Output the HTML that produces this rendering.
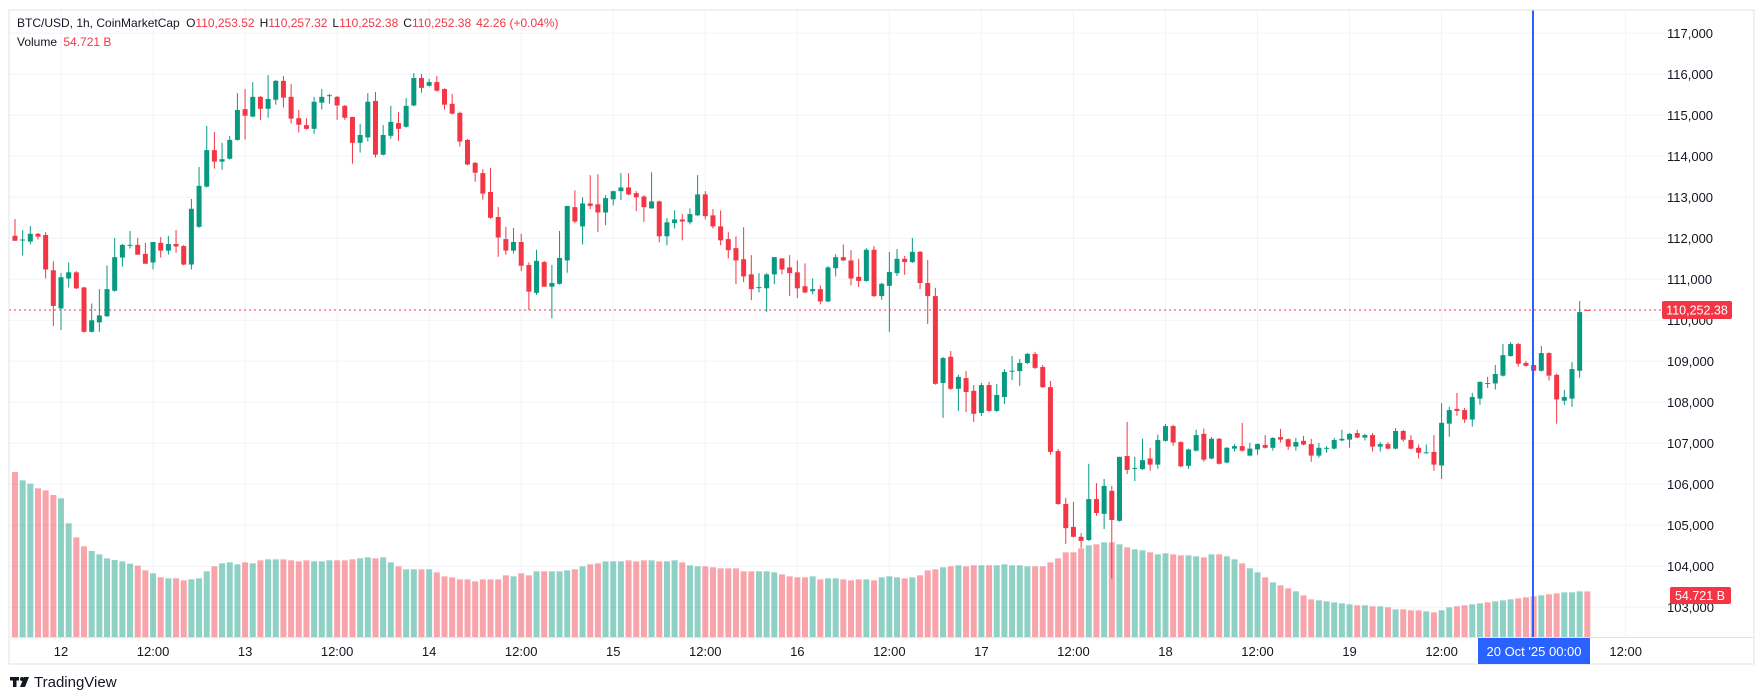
<!DOCTYPE html>
<html><head><meta charset="utf-8"><style>
html,body{margin:0;padding:0;background:#fff;width:1756px;height:700px;overflow:hidden}
svg{display:block;font-family:"Liberation Sans",sans-serif}
</style></head><body>
<svg id="chart" width="1756" height="700" viewBox="0 0 1756 700">
  <rect x="0" y="0" width="1756" height="700" fill="#ffffff"/>
  <g id="grid"></g>
  <g id="vol" clip-path="url(#plotclip)"></g>
  <line x1="9" y1="310" x2="1673" y2="310" stroke="#f23645" stroke-width="1" stroke-dasharray="2,3"/>
  <g id="candles" clip-path="url(#plotclip)"></g>
  <defs><clipPath id="plotclip"><rect x="9" y="10" width="1664" height="627"/></clipPath></defs>
  <line id="crosshair" x1="1533" y1="10" x2="1533" y2="637" stroke="#2962ff" stroke-width="2"/>
  <g id="axes"></g>
  <g font-size="12" fill="#131722">
    <text x="17" y="27">BTC/USD, 1h, CoinMarketCap <tspan dx="3">O</tspan><tspan fill="#f23645">110,253.52</tspan><tspan dx="5">H</tspan><tspan fill="#f23645">110,257.32</tspan><tspan dx="5">L</tspan><tspan fill="#f23645">110,252.38</tspan><tspan dx="5">C</tspan><tspan fill="#f23645">110,252.38</tspan><tspan dx="5" fill="#f23645">42.26 (+0.04%)</tspan></text>
    <text x="17" y="46">Volume <tspan dx="3" fill="#f23645">54.721 B</tspan></text>
  </g>
  <g>
    <rect x="10" y="677" width="9" height="3.5" fill="#131722"/>
    <rect x="13" y="677" width="3.5" height="10" fill="#131722"/>
    <circle cx="22" cy="679" r="2" fill="#131722"/>
    <polygon points="24,677 29,677 25,687 20,687" fill="#131722"/>
    <text x="34" y="687" font-size="15" fill="#131722">TradingView</text>
  </g>
</svg>
<script>
const opens=[112.06,111.96,111.92,112.11,112.08,111.22,110.29,111.02,111.17,110.80,
109.72,109.95,110.10,110.72,111.53,111.83,111.84,111.62,111.41,111.89,
111.70,111.86,111.81,111.36,112.28,113.26,114.15,113.87,113.94,114.40,
115.15,114.97,115.45,115.16,115.38,115.84,115.45,114.93,114.76,114.67,
115.31,115.47,115.45,115.23,114.96,114.33,114.46,115.35,114.04,114.50,
114.81,114.72,115.24,115.91,115.72,115.81,115.64,115.28,115.06,114.40,
113.84,113.59,113.13,112.52,111.98,111.70,111.91,111.35,110.67,111.42,
110.82,110.89,111.46,112.76,112.29,112.85,112.83,112.63,112.95,113.15,
113.24,113.10,113.02,112.73,112.90,112.05,112.37,112.46,112.39,112.56,
113.07,112.56,112.29,111.98,111.76,111.49,111.12,110.79,110.78,111.12,
111.51,111.29,111.17,110.83,110.71,110.76,110.46,111.27,111.54,111.46,
111.06,110.96,111.72,110.59,110.84,111.15,111.50,111.42,111.67,110.91,
110.59,108.47,109.11,108.33,108.59,108.28,107.74,108.42,107.79,108.13,
108.75,108.76,108.96,109.18,108.86,108.37,106.81,105.52,104.96,104.72,
104.64,105.64,105.28,105.84,105.11,106.69,106.39,106.37,106.63,106.48,
107.06,107.42,107.03,106.45,106.82,107.23,106.63,107.11,106.53,106.87,
106.93,106.70,106.85,106.96,106.89,107.15,107.10,106.92,107.06,106.98,
106.70,106.88,106.87,107.07,107.09,107.25,107.14,107.20,106.92,106.98,
106.87,107.30,107.08,106.89,106.77,106.79,106.46,107.48,107.84,107.81,
107.58,108.09,108.47,108.46,108.65,109.13,109.42,108.96,108.91,108.77,
109.20,108.67,108.04,108.09,108.77,110.2535];
const highs=[112.47,112.20,112.30,112.13,112.15,111.44,111.15,111.41,111.20,110.82,
110.41,110.76,111.34,112.01,111.86,112.18,112.01,111.89,111.91,112.03,
112.06,112.20,111.84,112.96,113.74,114.74,114.59,114.33,114.50,115.54,
115.64,115.81,115.47,115.98,115.86,115.96,115.76,115.13,114.93,115.45,
115.64,115.52,115.47,115.25,114.96,114.79,115.54,115.57,114.76,115.23,
115.08,115.42,116.03,116.01,115.89,115.96,115.66,115.52,115.09,114.42,
113.86,113.69,113.72,112.76,112.28,112.25,112.11,111.41,111.72,111.45,
111.35,112.18,112.79,113.17,113.00,113.54,113.56,113.05,113.16,113.59,
113.59,113.15,113.05,113.61,112.92,112.49,112.68,112.59,112.73,113.54,
113.15,112.71,112.68,112.15,112.05,112.27,111.59,111.15,111.15,111.54,
111.51,111.59,111.46,111.39,111.02,110.85,111.32,111.61,111.85,111.71,
111.50,111.76,111.81,110.91,111.67,111.74,111.57,112.01,111.69,111.47,
110.79,109.11,109.25,108.67,108.76,108.42,108.47,108.50,108.45,108.81,
109.13,109.06,109.20,109.23,108.91,108.52,106.86,105.67,105.57,104.81,
106.50,106.03,106.13,105.96,106.67,107.52,106.67,107.11,106.89,107.21,
107.47,107.45,107.05,106.87,107.33,107.36,107.15,107.13,106.91,106.98,
107.50,107.01,107.00,107.20,107.15,107.35,107.12,107.13,107.18,107.11,
107.01,106.93,107.13,107.33,107.25,107.33,107.23,107.25,107.03,107.03,
107.37,107.33,107.20,106.97,106.97,107.20,107.98,107.89,108.23,107.86,
108.23,108.50,108.62,108.91,109.42,109.47,109.45,109.01,108.93,109.37,
109.22,108.70,108.30,108.98,110.47,110.25732];
const lows=[111.94,111.58,111.85,111.97,111.02,109.86,109.76,110.80,110.76,109.70,
109.70,109.72,110.08,110.70,111.31,111.75,111.60,111.38,111.24,111.53,
111.60,111.65,111.34,111.24,112.26,113.24,113.70,113.67,113.92,114.38,
114.41,114.95,114.89,114.94,115.26,115.19,114.80,114.58,114.65,114.55,
115.14,115.28,114.89,114.89,113.82,114.09,114.36,113.97,114.02,114.43,
114.38,114.70,115.22,115.55,115.70,115.58,115.14,115.02,114.24,113.78,
113.38,112.94,112.48,111.55,111.60,111.63,111.20,110.25,110.62,110.82,
110.05,110.87,111.16,112.37,111.85,112.71,112.15,112.32,112.80,112.93,
113.05,112.66,112.40,112.72,111.90,111.83,112.24,111.95,112.34,112.54,
112.46,112.24,111.83,111.51,110.88,110.93,110.49,110.68,110.20,110.88,
111.12,110.59,110.54,110.66,110.63,110.39,110.44,111.07,111.44,110.85,
110.81,110.94,110.57,110.50,109.72,111.08,111.11,111.40,110.76,109.91,
108.43,107.62,108.30,107.79,107.76,107.52,107.67,107.77,107.76,107.96,
108.54,108.40,108.93,108.81,108.35,106.72,105.50,104.54,104.70,104.45,
104.62,105.23,104.91,103.70,105.09,106.25,106.08,106.35,106.33,106.38,
107.04,106.94,106.41,106.38,106.80,106.55,106.61,106.48,106.51,106.80,
106.80,106.68,106.72,106.87,106.82,107.02,106.84,106.82,106.95,106.55,
106.65,106.77,106.85,107.05,106.89,107.12,107.07,106.80,106.80,106.85,
106.85,107.04,106.85,106.63,106.75,106.33,106.13,107.16,107.67,107.50,
107.41,107.94,108.35,108.31,108.63,109.11,108.87,108.87,108.64,108.75,
108.53,107.48,107.94,107.89,108.60,110.25238];
const closes=[111.94,111.97,112.11,112.04,111.24,110.35,111.05,111.17,110.78,109.72,
110.00,110.12,110.76,111.54,111.84,111.84,111.60,111.38,111.91,111.70,
111.86,111.80,111.36,112.72,113.28,114.15,113.87,113.93,114.40,115.13,
114.99,115.45,115.16,115.40,115.84,115.43,114.92,114.77,114.67,115.33,
115.45,115.49,115.24,114.94,114.33,114.52,115.33,114.04,114.52,114.84,
114.67,115.23,115.91,115.67,115.81,115.60,115.26,115.04,114.36,113.80,
113.60,113.09,112.50,112.02,111.70,111.91,111.33,110.70,111.45,110.82,
110.91,111.52,112.79,112.41,112.85,112.79,112.63,112.98,113.15,113.24,
113.07,113.00,112.76,112.90,112.05,112.39,112.46,112.41,112.59,113.07,
112.54,112.29,111.95,111.71,111.46,111.07,110.76,110.81,111.12,111.54,
111.24,111.15,110.78,110.68,110.76,110.46,111.29,111.54,111.46,111.02,
110.96,111.72,110.59,110.89,111.18,111.50,111.42,111.67,110.91,110.59,
108.45,109.08,108.33,108.62,108.25,107.72,108.42,107.79,108.18,108.74,
108.77,108.96,109.18,108.84,108.37,106.79,105.52,104.93,104.72,104.62,
105.64,105.30,105.96,105.13,106.67,106.35,106.40,106.59,106.48,107.08,
107.42,107.02,106.44,106.85,107.20,106.60,107.11,106.50,106.89,106.93,
106.82,106.87,106.98,106.89,107.13,107.09,106.92,107.03,106.97,106.70,
106.89,106.89,107.08,107.11,107.23,107.14,107.20,106.92,106.98,106.87,
107.30,107.09,106.87,106.77,106.78,106.48,107.50,107.81,107.79,107.58,
108.13,108.50,108.45,108.69,109.15,109.42,108.94,108.89,108.77,109.20,
108.65,108.07,108.13,108.81,110.20,110.25238];
const volumes=[198,188,184,178.4,176,170.4,166.4,136.4,119.6,108.8,
103.2,99.2,94.4,92.4,90.8,88,85.6,80,76.4,71.6,
70.4,70.4,68,69.2,70.4,78.8,84.8,88.4,89.6,87.2,
89.6,88.4,92,93.2,93.2,93.2,92,90.8,92,90.8,
90.8,92,92,92,93.2,94.4,95.6,94.4,95.6,89.6,
84.8,81.2,81.2,81.2,81.2,77.6,72.8,71.6,69.2,69.2,
66.8,69.2,69.2,69.2,74,72.8,76.4,74,78.8,78.8,
78.8,78.8,80,81.2,84.8,87.2,88.4,90.8,90.8,90.8,
92,90.8,92,92,90.8,90.8,92,89.6,86,84.8,
84.8,83.6,82.4,82.4,82.4,78.8,78.8,78.8,78.8,77.6,
75.2,72.8,71.6,71.6,72.8,69.2,70.4,70.4,69.2,68,
69.2,69.2,68,71.6,72.8,71.6,70.4,71.6,74,80,
81.2,83.6,84.8,86,84.8,86,86,86,86,87.2,
86,86,84.8,84.8,84.8,89.6,94.4,101.6,101.6,106.4,
110,111.2,113.6,113.6,111.2,107.6,105.2,104,101.6,99.2,
100.4,99.2,98,98,96.8,95.6,99.2,99.2,96.8,93.2,
88.4,82.4,77.6,71.6,65.6,62,58.4,54.8,50,45.2,
44,42.8,41.6,40.4,39.2,38,38,36.8,36.8,35.6,
33.2,33.2,32,32,30.8,29.6,32,35.6,36.8,38,
39.2,40.4,41.6,42.8,44,45.2,46.4,47.6,48.8,50,
51.2,52.4,53.6,53.6,54.8,54.72];
const priceTicks=[117,116,115,114,113,112,111,110,109,108,107,106,105,104,103];
const priceTickLabels=["117,000","116,000","115,000","114,000","113,000","112,000","111,000","110,000","109,000","108,000","107,000","106,000","105,000","104,000","103,000"];
const timeTickHours=[0,12,24,36,48,60,72,84,96,108,120,132,144,156,168,180,204];
const timeTickLabels=["12","12:00","13","12:00","14","12:00","15","12:00","16","12:00","17","12:00","18","12:00","19","12:00","12:00"];
const firstCandleHour=-6;

const NS="http://www.w3.org/2000/svg";
const PX_PER_HOUR=7.67, X0=61;
function xOfHour(h){return X0+PX_PER_HOUR*h;}
function xOfIndex(i){return xOfHour(firstCandleHour+i);}
function yOfPrice(p){return 33.3+(117-p)*41;}
function volHeight(v){return v/1.2;}
const VOL_BASE=637;
function mk(tag,attrs,parent){const e=document.createElementNS(NS,tag);for(const k in attrs)e.setAttribute(k,attrs[k]);parent.appendChild(e);return e;}

const grid=document.getElementById('grid');
const axes=document.getElementById('axes');
priceTicks.forEach((p,i)=>{
  const y=yOfPrice(p);
  const gl=mk('line',{x1:9,x2:1673,y1:y,y2:y,stroke:'#f0f3fa','stroke-width':1},grid);
  
  
  const t=mk('text',{x:1667,y:y+4.5,'font-size':13,fill:'#131722'},axes);
  t.textContent=priceTickLabels[i];
  
  
});
timeTickHours.forEach((h,i)=>{
  const x=xOfHour(h);
  const gl=mk('line',{x1:x,x2:x,y1:10,y2:637,stroke:'#f0f3fa','stroke-width':1},grid);
  
  
  const t=mk('text',{x:x,y:656,'font-size':13,fill:'#131722','text-anchor':'middle'},axes);
  t.textContent=timeTickLabels[i];
  
  
});
const fr=mk('rect',{x:9,y:10,width:1745,height:654,fill:'none',stroke:'#e0e3eb','stroke-width':1},axes);


const ta=mk('line',{x1:9,x2:1754,y1:637.5,y2:637.5,stroke:'#e0e3eb','stroke-width':1},axes);



const volG=document.getElementById('vol');
volumes.forEach((v,i)=>{
  const up=closes[i]>=opens[i];
  const x=xOfIndex(i);
  const h=volHeight(v);
  const r=mk('rect',{x:x-3,y:VOL_BASE-h,width:6,height:h,fill:up?'rgba(8,153,129,0.45)':'rgba(242,54,69,0.45)'},volG);
  
  
});
const cG=document.getElementById('candles');
opens.forEach((o,i)=>{
  const c=closes[i],hi=highs[i],lo=lows[i];
  const up=c>=o;
  const col=up?'#089981':'#f23645';
  const x=xOfIndex(i);
  const g=mk('g',{},cG);
  
  
  mk('line',{x1:x,x2:x,y1:yOfPrice(hi),y2:yOfPrice(lo),stroke:col,'stroke-width':1},g);
  const yt=yOfPrice(Math.max(o,c)),yb=yOfPrice(Math.min(o,c));
  mk('rect',{x:x-2.5,y:yt,width:5,height:Math.max(1,yb-yt),fill:col},g);
});
const cur=closes[closes.length-1];
const cy=yOfPrice(cur);
const tag=mk('g',{},axes);


mk('rect',{x:1662,y:cy-9,width:70,height:18,rx:2,fill:'#f23645'},tag);
const tt=mk('text',{x:1697,y:cy+4.5,'font-size':12.5,fill:'#fff','text-anchor':'middle'},tag);
tt.textContent='110,252.38';
const vtag=mk('g',{},axes);


mk('rect',{x:1670,y:587,width:61,height:17,rx:2,fill:'#f23645'},vtag);
const vt=mk('text',{x:1700,y:600,'font-size':12.5,fill:'#fff','text-anchor':'middle'},vtag);
vt.textContent='54.721 B';
const ct=mk('g',{},axes);


mk('rect',{x:1478,y:638,width:112,height:26,fill:'#2962ff'},ct);
const ctt=mk('text',{x:1534,y:656,'font-size':13,fill:'#fff','text-anchor':'middle','xml:space':'preserve'},ct);
ctt.textContent="20 Oct '25   00:00";
</script>
</body></html>
